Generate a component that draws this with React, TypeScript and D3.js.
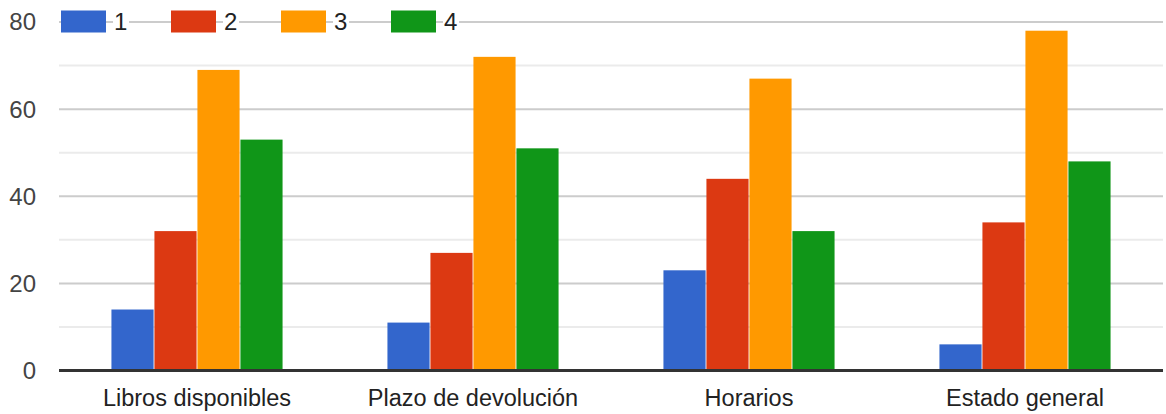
import React from "react";
import * as d3 from "d3";

const categories = ["Libros disponibles", "Plazo de devolución", "Horarios", "Estado general"];
const seriesNames = ["1", "2", "3", "4"];
const series1 = [14, 11, 23, 6];
const series2 = [32, 27, 44, 34];
const series3 = [69, 72, 67, 78];
const series4 = [53, 51, 32, 48];
const yTicks = [0, 20, 40, 60, 80];
const yMinorTicks = [10, 30, 50, 70];
const colors = ["#3366cc", "#dc3912", "#ff9900", "#109618"];

const W = 1166, H = 414;
const left = 59, right = 1163, top = 22, bottom = 370.5;

export default function App() {
  const allSeries = [series1, series2, series3, series4];
  const x0 = d3.scaleBand<string>().domain(categories).range([left, right]).paddingInner(0.38).paddingOuter(0.19);
  const x1 = d3.scaleBand<string>().domain(seriesNames).range([0, x0.bandwidth()]).paddingInner(0.02);
  const y = d3.scaleLinear().domain([0, 80]).range([bottom, top]);
  const font = "'Liberation Sans', Arial, sans-serif";
  return (
    <svg width={W} height={H} style={{ position: "absolute", left: 0, top: 0, background: "#fff" }}>
      {yMinorTicks.map((t) => (
        <line key={"m" + t} x1={left} x2={right} y1={y(t)} y2={y(t)} stroke="#ebebeb" strokeWidth={2} />
      ))}
      {yTicks.filter((t) => t !== 0).map((t) => (
        <line key={"g" + t} x1={left} x2={right} y1={y(t)} y2={y(t)} stroke="#cccccc" strokeWidth={2} />
      ))}
      {yTicks.map((t) => (
        <text key={"t" + t} x={36} y={y(t)} dy="0.35em" textAnchor="end" fontFamily={font} fontSize={24} fill="#444">
          {t}
        </text>
      ))}
      {categories.map((c, ci) => (
        <g key={c}>
          {seriesNames.map((s, si) => (
            <rect
              key={s}
              x={(x0(c) ?? 0) + (x1(s) ?? 0)}
              y={y(allSeries[si][ci])}
              width={x1.bandwidth()}
              height={bottom - y(allSeries[si][ci])}
              fill={colors[si]}
            />
          ))}
          <text x={(x0(c) ?? 0) + x0.bandwidth() / 2} y={406} textAnchor="middle" fontFamily={font} fontSize={23.5} fill="#222">
            {c}
          </text>
        </g>
      ))}
      <line x1={left} x2={right} y1={bottom} y2={bottom} stroke="#333" strokeWidth={3} />
      {seriesNames.map((s, i) => {
        const lx = 61 + i * 110;
        return (
          <g key={"l" + s}>
            <rect x={lx + 52} y={10} width={16} height={24} fill="#fff" />
            <rect x={lx} y={10.5} width={45} height={22} fill={colors[i]} />
            <text x={lx + 53} y={22} dy="0.35em" fontFamily={font} fontSize={24} fill="#222">
              {s}
            </text>
          </g>
        );
      })}
    </svg>
  );
}
